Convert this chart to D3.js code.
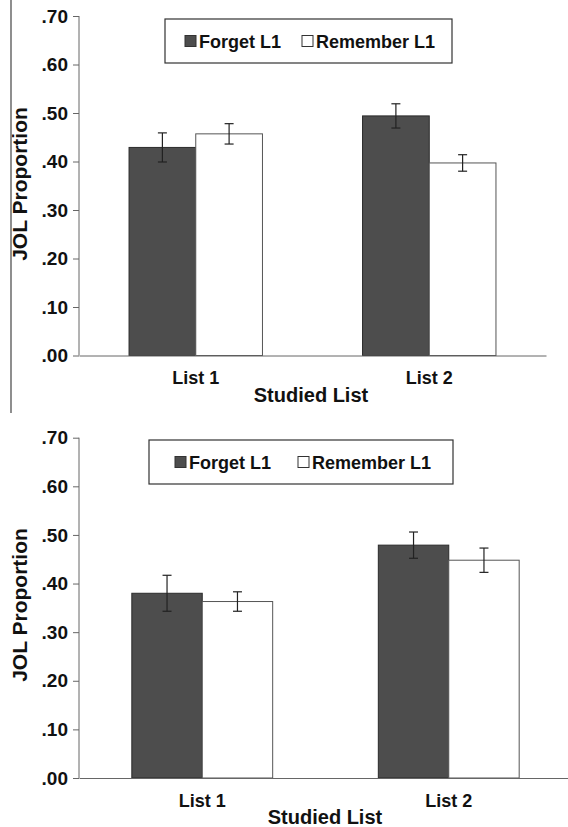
<!DOCTYPE html>
<html>
<head>
<meta charset="utf-8">
<script src="https://cdn.jsdelivr.net/npm/d3@7"></script>
<style>
  html, body { margin: 0; padding: 0; background: #fff; }
  svg { display: block; font-family: "Liberation Sans", Arial, sans-serif; font-weight: bold; }
</style>
</head>
<body>
<svg id="chart" width="568" height="827"></svg>
<script>
// ---- data ----
const categories = ["List 1", "List 2"];
const seriesNames = ["Forget L1", "Remember L1"];
const seriesColors = ["#4d4d4d", "#ffffff"];
const yTickValues = [0, 0.1, 0.2, 0.3, 0.4, 0.5, 0.6, 0.7];
const yTickLabels = [".00", ".10", ".20", ".30", ".40", ".50", ".60", ".70"];
const yTitle = "JOL Proportion";
const xTitle = "Studied List";

// Panel A (top)
const topForget = [0.429, 0.494];
const topForgetErr = [0.030, 0.025];
const topRemember = [0.457, 0.397];
const topRememberErr = [0.021, 0.017];

// Panel B (bottom)
const bottomForget = [0.380, 0.479];
const bottomForgetErr = [0.037, 0.027];
const bottomRemember = [0.363, 0.448];
const bottomRememberErr = [0.020, 0.025];

const svg = d3.select("#chart");

function drawPanel(opt) {
  const g = svg.append("g");
  const y = d3.scaleLinear().domain([0, 0.7]).range([opt.yZero, opt.yTop]);
  const x = d3.scaleBand().domain(categories).range([opt.x0, opt.x1]).padding(0);
  const xs = d3.scaleBand().domain(seriesNames).range([0, x.bandwidth()])
    .paddingInner(0).paddingOuter(0.75);

  const values = [opt.forget, opt.remember];
  const errs = [opt.forgetErr, opt.rememberErr];

  // bars
  seriesNames.forEach((s, si) => {
    const data = categories.map((c, ci) => ({ c, v: values[si][ci], e: errs[si][ci] }));
    g.selectAll(null).data(data).enter().append("rect")
      .attr("x", d => x(d.c) + xs(s))
      .attr("y", d => y(d.v))
      .attr("width", xs.bandwidth())
      .attr("height", d => y(0) - y(d.v))
      .attr("fill", seriesColors[si])
      .attr("stroke", si === 0 ? "#2b2b2b" : "#555")
      .attr("stroke-width", 1);
  });

  // error bars
  seriesNames.forEach((s, si) => {
    const data = categories.map((c, ci) => ({ c, v: values[si][ci], e: errs[si][ci] }));
    const cx = d => x(d.c) + xs(s) + xs.bandwidth() / 2;
    const eg = g.append("g").attr("stroke", "#222").attr("stroke-width", 1.2);
    eg.selectAll(null).data(data).enter().append("line")
      .attr("x1", cx).attr("x2", cx)
      .attr("y1", d => y(d.v + d.e)).attr("y2", d => y(d.v - d.e));
    [1, -1].forEach(sign => {
      eg.selectAll(null).data(data).enter().append("line")
        .attr("x1", d => cx(d) - 4.5).attr("x2", d => cx(d) + 4.5)
        .attr("y1", d => y(d.v + sign * d.e)).attr("y2", d => y(d.v + sign * d.e));
    });
  });

  // y axis
  const yAxis = d3.axisLeft(y).tickValues(yTickValues)
    .tickFormat((d, i) => yTickLabels[i]).tickSize(6).tickPadding(5);
  const ya = g.append("g").attr("transform", `translate(${opt.x0},0)`).call(yAxis);
  ya.select(".domain").attr("stroke", "#666").attr("d", `M0,${opt.yTop}V${opt.yZero}`);
  ya.selectAll(".tick line").attr("stroke", "#666");
  ya.selectAll(".tick text").attr("fill", "#111").style("font-size", "19px")
    .style("font-family", '"Liberation Sans", Arial, sans-serif').style("font-weight", "bold");

  // x axis
  const xAxis = d3.axisBottom(x).tickSize(0).tickPadding(16);
  const xa = g.append("g").attr("transform", `translate(0,${opt.yZero})`).call(xAxis);
  xa.select(".domain").attr("stroke", "#666");
  xa.selectAll(".tick text").attr("fill", "#111").style("font-size", "18px")
    .style("font-family", '"Liberation Sans", Arial, sans-serif').style("font-weight", "bold");

  // titles
  g.append("text")
    .attr("x", opt.xTitleX).attr("y", opt.xTitleY)
    .attr("text-anchor", "middle").attr("dominant-baseline", "central")
    .style("font-size", "20px").attr("fill", "#111").text(xTitle);
  g.append("text")
    .attr("transform", `translate(${opt.yTitleX},${opt.yTitleY}) rotate(-90)`)
    .attr("text-anchor", "middle").attr("dominant-baseline", "central")
    .style("font-size", "21px").attr("fill", "#111").text(yTitle);

  // legend
  const lg = g.append("g");
  lg.append("rect")
    .attr("x", opt.legend.x).attr("y", opt.legend.y)
    .attr("width", opt.legend.w).attr("height", opt.legend.h)
    .attr("fill", "#fff").attr("stroke", "#333").attr("stroke-width", 1.2);
  seriesNames.forEach((s, si) => {
    const lx = opt.legend.items[si];
    const cy = opt.legend.y + opt.legend.h / 2;
    lg.append("rect")
      .attr("x", lx).attr("y", cy - 5.5).attr("width", 11).attr("height", 11)
      .attr("fill", seriesColors[si]).attr("stroke", "#333").attr("stroke-width", 1);
    lg.append("text")
      .attr("x", lx + 14).attr("y", cy + 1)
      .attr("dominant-baseline", "central")
      .style("font-size", "18px").attr("fill", "#111").text(s);
  });
}

drawPanel({
  x0: 79, x1: 546, yTop: 16, yZero: 355.5,
  forget: topForget, forgetErr: topForgetErr,
  remember: topRemember, rememberErr: topRememberErr,
  xTitleX: 311, xTitleY: 395, yTitleX: 19, yTitleY: 184,
  legend: { x: 165, y: 19, w: 287, h: 44, items: [185, 302] }
});

drawPanel({
  x0: 79, x1: 572, yTop: 437.7, yZero: 778,
  forget: bottomForget, forgetErr: bottomForgetErr,
  remember: bottomRemember, rememberErr: bottomRememberErr,
  xTitleX: 325, xTitleY: 817, yTitleX: 19, yTitleY: 605,
  legend: { x: 149, y: 440, w: 304, h: 44, items: [175, 298] }
});

// left border line of the top panel
svg.append("line")
  .attr("x1", 11).attr("x2", 11).attr("y1", 0).attr("y2", 413)
  .attr("stroke", "#444").attr("stroke-width", 1.2);
</script>
</body>
</html>
